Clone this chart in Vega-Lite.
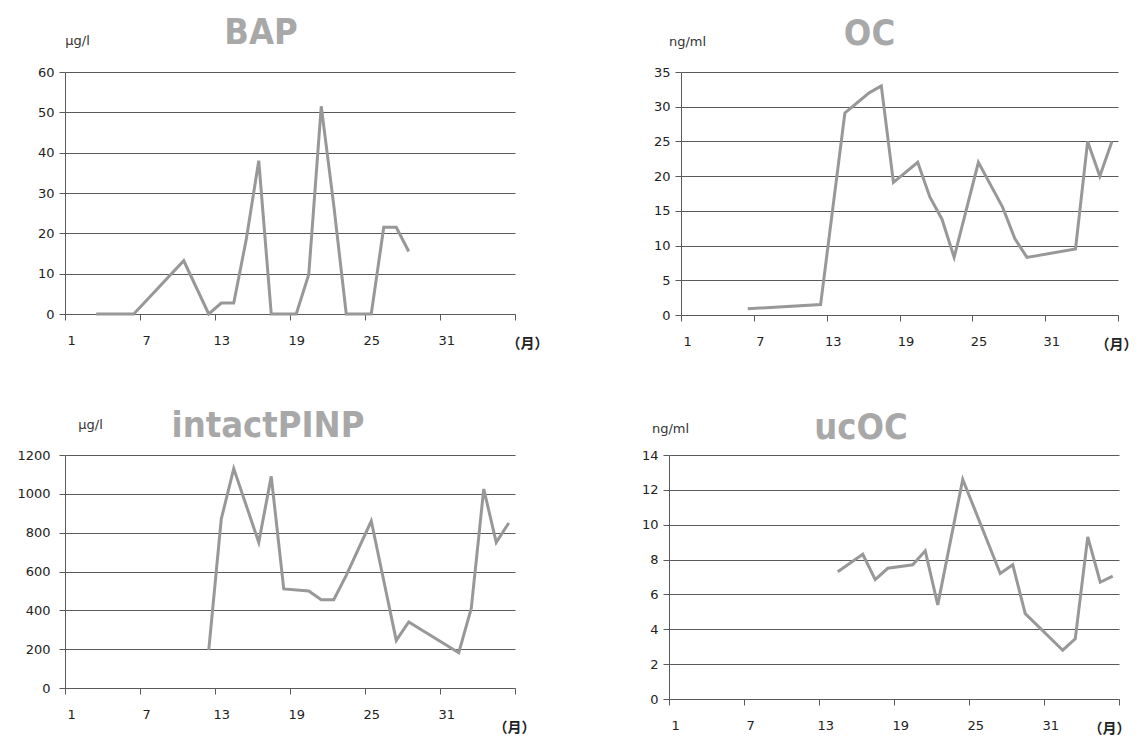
{
  "$schema": "https://vega.github.io/schema/vega-lite/v6.json",
  "background": "white",
  "padding": {"left": 16, "top": 15, "right": 5, "bottom": 5},
  "bounds": "flush",
  "spacing": 383,
  "config": {
    "view": {"stroke": null},
    "axis": {
      "gridColor": "#5a5a5a",
      "gridWidth": 1,
      "domainColor": "#5a5a5a",
      "tickColor": "#5a5a5a",
      "tickSize": 6,
      "labelFont": "DejaVu Sans",
      "labelFontSize": 13,
      "labelColor": "#222222",
      "titleFont": "DejaVu Sans",
      "titleFontSize": 13,
      "titleFontWeight": "normal",
      "titleColor": "#333333"
    },
    "axisX": {
      "grid": false,
      "labelOffset": 6.25,
      "labelPadding": 14,
      "labelFlush": false,
      "labelOverlap": false,
      "titleFont": "Noto Sans CJK JP",
      "titleFontSize": 14,
      "titleFontWeight": "bold",
      "titleColor": "#222222",
      "titleAngle": 0,
      "titleAlign": "center",
      "titleBaseline": "middle"
    },
    "axisY": {
      "grid": true,
      "labelPadding": 5,
      "titleAngle": 0,
      "titleAlign": "center",
      "titleBaseline": "middle"
    },
    "line": {"color": "#989898", "strokeWidth": 3, "strokeJoin": "miter"},
    "title": {
      "font": "DejaVu Sans Condensed, Liberation Sans, sans-serif",
      "fontSize": 36,
      "fontWeight": "bold",
      "color": "#a8a8a8",
      "anchor": "middle",
      "baseline": "alphabetic"
    }
  },
  "data": {
    "values": [
      {"panel": "BAP", "month": 3, "value": 0},
      {"panel": "BAP", "month": 6, "value": 0},
      {"panel": "BAP", "month": 10, "value": 13.2},
      {"panel": "BAP", "month": 12, "value": 0},
      {"panel": "BAP", "month": 13, "value": 2.7},
      {"panel": "BAP", "month": 14, "value": 2.7},
      {"panel": "BAP", "month": 15, "value": 18.5},
      {"panel": "BAP", "month": 16, "value": 38},
      {"panel": "BAP", "month": 17, "value": 0},
      {"panel": "BAP", "month": 19, "value": 0},
      {"panel": "BAP", "month": 20, "value": 9.8},
      {"panel": "BAP", "month": 21, "value": 51.5},
      {"panel": "BAP", "month": 22, "value": 27},
      {"panel": "BAP", "month": 23, "value": 0},
      {"panel": "BAP", "month": 25, "value": 0},
      {"panel": "BAP", "month": 26, "value": 21.5},
      {"panel": "BAP", "month": 27, "value": 21.5},
      {"panel": "BAP", "month": 28, "value": 15.5},

      {"panel": "OC", "month": 6, "value": 0.9},
      {"panel": "OC", "month": 12, "value": 1.5},
      {"panel": "OC", "month": 14, "value": 29.1},
      {"panel": "OC", "month": 16, "value": 32},
      {"panel": "OC", "month": 17, "value": 33},
      {"panel": "OC", "month": 18, "value": 19.1},
      {"panel": "OC", "month": 20, "value": 22},
      {"panel": "OC", "month": 21, "value": 17},
      {"panel": "OC", "month": 22, "value": 13.8},
      {"panel": "OC", "month": 23, "value": 8.3},
      {"panel": "OC", "month": 25, "value": 22},
      {"panel": "OC", "month": 27, "value": 15.5},
      {"panel": "OC", "month": 28, "value": 11},
      {"panel": "OC", "month": 29, "value": 8.3},
      {"panel": "OC", "month": 33, "value": 9.5},
      {"panel": "OC", "month": 34, "value": 25},
      {"panel": "OC", "month": 35, "value": 20},
      {"panel": "OC", "month": 36, "value": 25},

      {"panel": "intactPINP", "month": 12, "value": 195},
      {"panel": "intactPINP", "month": 13, "value": 870},
      {"panel": "intactPINP", "month": 14, "value": 1130},
      {"panel": "intactPINP", "month": 16, "value": 750},
      {"panel": "intactPINP", "month": 17, "value": 1090},
      {"panel": "intactPINP", "month": 18, "value": 510},
      {"panel": "intactPINP", "month": 20, "value": 500},
      {"panel": "intactPINP", "month": 21, "value": 455},
      {"panel": "intactPINP", "month": 22, "value": 455},
      {"panel": "intactPINP", "month": 23, "value": 580},
      {"panel": "intactPINP", "month": 25, "value": 860},
      {"panel": "intactPINP", "month": 27, "value": 245},
      {"panel": "intactPINP", "month": 28, "value": 340},
      {"panel": "intactPINP", "month": 32, "value": 182},
      {"panel": "intactPINP", "month": 33, "value": 410},
      {"panel": "intactPINP", "month": 34, "value": 1025},
      {"panel": "intactPINP", "month": 35, "value": 750},
      {"panel": "intactPINP", "month": 36, "value": 850},

      {"panel": "ucOC", "month": 14, "value": 7.3},
      {"panel": "ucOC", "month": 16, "value": 8.3},
      {"panel": "ucOC", "month": 17, "value": 6.85},
      {"panel": "ucOC", "month": 18, "value": 7.5},
      {"panel": "ucOC", "month": 20, "value": 7.7},
      {"panel": "ucOC", "month": 21, "value": 8.5},
      {"panel": "ucOC", "month": 22, "value": 5.4},
      {"panel": "ucOC", "month": 24, "value": 12.6},
      {"panel": "ucOC", "month": 27, "value": 7.2},
      {"panel": "ucOC", "month": 28, "value": 7.7},
      {"panel": "ucOC", "month": 29, "value": 4.9},
      {"panel": "ucOC", "month": 32, "value": 2.8},
      {"panel": "ucOC", "month": 33, "value": 3.45},
      {"panel": "ucOC", "month": 34, "value": 9.3},
      {"panel": "ucOC", "month": 35, "value": 6.7},
      {"panel": "ucOC", "month": 36, "value": 7.05}
    ]
  },
  "vconcat": [
    {
      "bounds": "flush",
      "spacing": 166,
      "hconcat": [
        {
          "width": 450,
          "height": 242,
          "title": {"text": "BAP", "dx": -29, "offset": -18},
          "transform": [{"filter": "datum.panel === 'BAP'"}],
          "mark": {"type": "line"},
          "encoding": {
            "x": {"field": "month", "type": "quantitative", "scale": {"domain": [0.5, 36.5], "nice": false, "zero": false},
                  "axis": {"values": [0.5, 6.5, 12.5, 18.5, 24.5, 30.5, 36.5],
                           "labelExpr": "datum.value < 32 ? format(datum.value + 0.5, 'd') : ''",
                           "title": "（月）", "titleX": 462, "titleY": 29}},
            "y": {"field": "value", "type": "quantitative", "scale": {"domain": [0, 60], "nice": false},
                  "axis": {"values": [0, 10, 20, 30, 40, 50, 60], "title": "μg/l", "titleX": 12, "titleY": -32}}
          }
        },
        {
          "width": 437,
          "height": 243,
          "title": {"text": "OC", "dx": -30, "offset": -18},
          "transform": [{"filter": "datum.panel === 'OC'"}],
          "mark": {"type": "line"},
          "encoding": {
            "x": {"field": "month", "type": "quantitative", "scale": {"domain": [0.5, 36.5], "nice": false, "zero": false},
                  "axis": {"values": [0.5, 6.5, 12.5, 18.5, 24.5, 30.5, 36.5],
                           "labelExpr": "datum.value < 32 ? format(datum.value + 0.5, 'd') : ''",
                           "labelOffset": 6.07, "title": "（月）", "titleX": 435, "titleY": 29}},
            "y": {"field": "value", "type": "quantitative", "scale": {"domain": [0, 35], "nice": false},
                  "axis": {"values": [0, 5, 10, 15, 20, 25, 30, 35], "title": "ng/ml", "titleX": 6, "titleY": -31}}
          }
        }
      ]
    },
    {
      "bounds": "flush",
      "spacing": 154,
      "hconcat": [
        {
          "width": 450,
          "height": 233,
          "title": {"text": "intactPINP", "dx": -22, "offset": -27},
          "transform": [{"filter": "datum.panel === 'intactPINP'"}],
          "mark": {"type": "line"},
          "encoding": {
            "x": {"field": "month", "type": "quantitative", "scale": {"domain": [0.5, 36.5], "nice": false, "zero": false},
                  "axis": {"values": [0.5, 6.5, 12.5, 18.5, 24.5, 30.5, 36.5],
                           "labelExpr": "datum.value < 32 ? format(datum.value + 0.5, 'd') : ''",
                           "title": "（月）", "titleX": 449, "titleY": 39}},
            "y": {"field": "value", "type": "quantitative", "scale": {"domain": [0, 1200], "nice": false},
                  "axis": {"values": [0, 200, 400, 600, 800, 1000, 1200], "format": "d", "labelPadding": 9, "title": "μg/l", "titleX": 25, "titleY": -31}}
          }
        },
        {
          "width": 450,
          "height": 244,
          "title": {"text": "ucOC", "dx": -33, "offset": -25},
          "transform": [{"filter": "datum.panel === 'ucOC'"}],
          "mark": {"type": "line"},
          "encoding": {
            "x": {"field": "month", "type": "quantitative", "scale": {"domain": [0.5, 36.5], "nice": false, "zero": false},
                  "axis": {"values": [0.5, 6.5, 12.5, 18.5, 24.5, 30.5, 36.5],
                           "labelExpr": "datum.value < 32 ? format(datum.value + 0.5, 'd') : ''",
                           "title": "（月）", "titleX": 440, "titleY": 29}},
            "y": {"field": "value", "type": "quantitative", "scale": {"domain": [0, 14], "nice": false},
                  "axis": {"values": [0, 2, 4, 6, 8, 10, 12, 14], "title": "ng/ml", "titleX": 1, "titleY": -27}}
          }
        }
      ]
    }
  ]
}
